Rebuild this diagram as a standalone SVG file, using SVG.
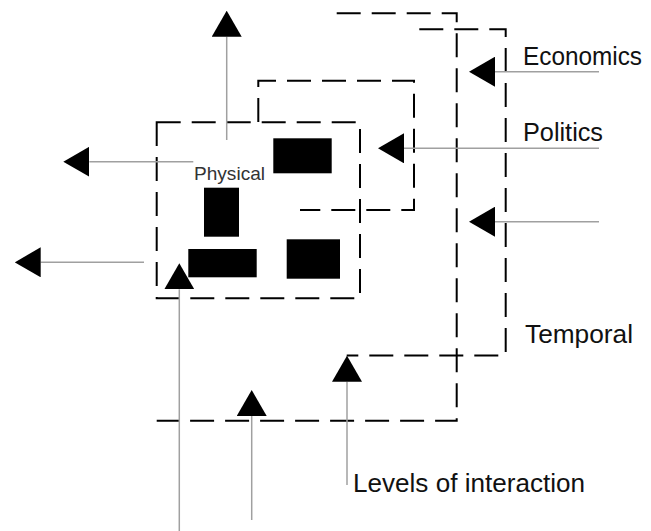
<svg xmlns="http://www.w3.org/2000/svg" width="651" height="531" viewBox="0 0 651 531">
<style>
.lvl{fill:none;stroke:#000;stroke-width:2;stroke-dasharray:24 11}
.blk{fill:#000}
.con{fill:none;stroke:#a0a0a0;stroke-width:1.5;marker-end:url(#tri)}
.lbl{font-family:"Liberation Sans",Arial,sans-serif;font-size:25px;fill:#111}
.phy{font-family:"Liberation Sans",Arial,sans-serif;font-size:19px;fill:#333}
</style>
<defs>
<marker id="tri" markerUnits="userSpaceOnUse" viewBox="0 -15 26 30" refX="0" refY="0" markerWidth="26" markerHeight="30" orient="auto">
<path d="M0,-15 L26,0 L0,15 z" fill="#000"/>
</marker>
</defs>
<rect width="651" height="531" fill="#fff"/>
<g id="temporal-level">
<path class="lvl" d="M336.7,13.3 H456.7 V420.7 H156.7"/>
</g>
<g id="economics-level">
<path class="lvl" d="M419.3,29.3 H505.7 V355.5 H346.7"/>
</g>
<g id="politics-level">
<path class="lvl" d="M258.3,122 V80.7 H414 V210 H300"/>
</g>
<g id="physical-level">
<path class="lvl" d="M156.7,122.3 H360 V298.3 H156.7 Z"/>
<text class="phy" x="194" y="180" textLength="71" lengthAdjust="spacingAndGlyphs">Physical</text>
</g>
<g id="objects">
<rect class="blk" x="273.3" y="138.3" width="58.4" height="35"/>
<rect class="blk" x="204" y="187.7" width="35" height="49"/>
<rect class="blk" x="188.3" y="249" width="68.4" height="28.3"/>
<rect class="blk" x="286.7" y="239.3" width="53.3" height="39.4"/>
</g>
<g id="connectors">
<path class="con" d="M226.7,140 V36.7"/>
<path class="con" d="M193.3,161.7 H89.3"/>
<path class="con" d="M144,262.3 H40.7"/>
<path class="con" d="M599,71.7 H495"/>
<path class="con" d="M599,148.3 H404"/>
<path class="con" d="M599,221.7 H495"/>
<path class="con" d="M179.3,531 V289.3"/>
<path class="con" d="M251.7,520 V416"/>
<path class="con" d="M347,485 V381.7"/>
</g>
<g id="labels">
<text class="lbl" x="523" y="65" textLength="119" lengthAdjust="spacingAndGlyphs">Economics</text>
<text class="lbl" x="523" y="141" textLength="80" lengthAdjust="spacingAndGlyphs">Politics</text>
<text class="lbl" x="525" y="343" textLength="108" lengthAdjust="spacingAndGlyphs">Temporal</text>
<text class="lbl" x="353" y="492" textLength="232" lengthAdjust="spacingAndGlyphs">Levels of interaction</text>
</g>
</svg>
